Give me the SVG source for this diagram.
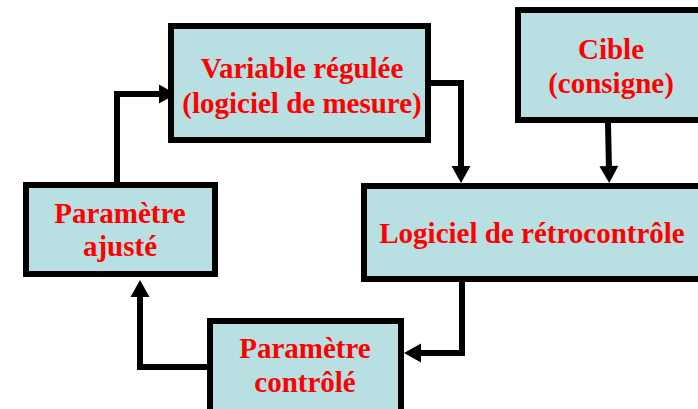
<svg xmlns="http://www.w3.org/2000/svg" width="698" height="409" viewBox="0 0 698 409">
<style>
.box{fill:#b8dfe2;stroke:#000;stroke-width:6;stroke-linejoin:miter}
.lbl{font-family:"Liberation Serif","Times New Roman",serif;font-weight:bold;font-size:29px;fill:#ff0000;text-anchor:middle}
.con{fill:none;stroke:#000;stroke-width:6;stroke-linejoin:miter}
</style>
<defs>
<marker id="arr" markerUnits="userSpaceOnUse" markerWidth="17" markerHeight="19" refX="5" refY="9.5" orient="auto" overflow="visible">
<path d="M0,0 L17,9.5 L0,19 z" fill="#000"/>
</marker>
</defs>
<rect width="698" height="409" fill="#fff"/>
<g id="connectors">
<path class="con" d="M117,182 V94 H164" marker-end="url(#arr)"/>
<path class="con" d="M431,83 H461 V171" marker-end="url(#arr)"/>
<path class="con" d="M608,123 L609,171" marker-end="url(#arr)"/>
<path class="con" d="M462,282 V353 H416" marker-end="url(#arr)"/>
<path class="con" d="M207,367 H140 V292" marker-end="url(#arr)"/>
</g>
<g id="variable">
<rect class="box" x="171" y="26" width="257" height="114"/>
<text class="lbl" x="302" y="78">Variable régulée</text>
<text class="lbl" x="302" y="113">(logiciel de mesure)</text>
</g>
<g id="cible">
<rect class="box" x="518" y="10" width="200" height="110"/>
<text class="lbl" x="611" y="59">Cible</text>
<text class="lbl" x="611" y="93">(consigne)</text>
</g>
<g id="retro">
<rect class="box" x="364" y="186" width="350" height="93"/>
<text class="lbl" x="532" y="243">Logiciel de rétrocontrôle</text>
</g>
<g id="ajuste">
<rect class="box" x="26" y="185" width="189" height="89"/>
<text class="lbl" x="120" y="223">Paramètre</text>
<text class="lbl" x="120" y="256">ajusté</text>
</g>
<g id="controle">
<rect class="box" x="210" y="321" width="191" height="100"/>
<text class="lbl" x="305" y="358">Paramètre</text>
<text class="lbl" x="305" y="392">contrôlé</text>
</g>
</svg>
